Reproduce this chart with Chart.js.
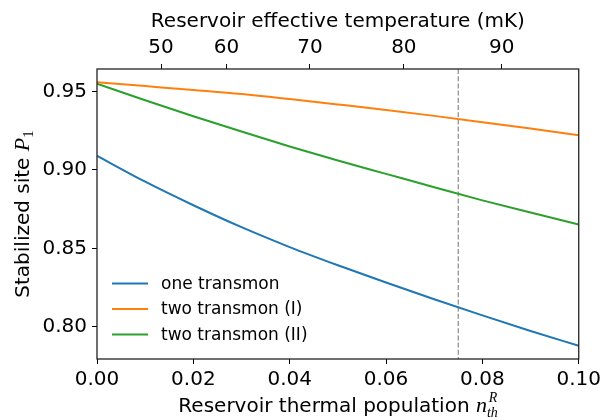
<!DOCTYPE html>
<html>
<head>
<meta charset="utf-8">
<script src="https://cdn.jsdelivr.net/npm/chart.js@4.4.1/dist/chart.umd.min.js"></script>
<style>
  body { margin: 0; background: #fff; }
  #wrap { width: 605px; height: 420px; position: relative; }
</style>
</head>
<body>
<div id="wrap"><canvas id="chart"></canvas></div>
<script>
// thermal population of the reservoir (x axis)
const nValues = [0, 0.01, 0.02, 0.03, 0.04, 0.05, 0.06, 0.07, 0.08, 0.09, 0.10];
// stabilized site population P1
const oneTransmon   = [0.909, 0.8925, 0.8775, 0.8635, 0.8508, 0.8392, 0.8282, 0.8175, 0.8072, 0.7973, 0.7878];
const twoTransmonI  = [0.956, 0.9535, 0.951, 0.9484, 0.9452, 0.9418, 0.9383, 0.9345, 0.9305, 0.9264, 0.9222];
const twoTransmonII = [0.955, 0.9445, 0.9343, 0.9245, 0.915, 0.906, 0.8975, 0.889, 0.8806, 0.8728, 0.8652];

const seriesLabels = ["one transmon", "two transmon (I)", "two transmon (II)"];
const seriesColors = ["#1f77b4", "#ff7f0e", "#2ca02c"];

const xTicks = [0, 0.02, 0.04, 0.06, 0.08, 0.10];
const yTicks = [0.80, 0.85, 0.90, 0.95];
// top axis: effective temperature ticks, placed at their thermal population
const tempTickN = [0.0133, 0.0269, 0.0442, 0.0637, 0.0840];
const tempTickLabels = ["50", "60", "70", "80", "90"];
const markerN = 0.075;

const FONT = "DejaVu Sans";
Chart.defaults.font.family = FONT;
Chart.defaults.color = "#000";

function toPoints(ys) {
  return ys.map((y, i) => ({ x: nValues[i], y: y }));
}

// draws a row of text pieces with different fonts, centred on x
function drawRich(ctx, parts, x, y) {
  let total = 0;
  parts.forEach((p) => {
    ctx.font = p.font;
    p.w = ctx.measureText(p.text).width;
    total += p.w + (p.gap || 0);
  });
  let cx = x - total / 2;
  ctx.textAlign = "left";
  ctx.textBaseline = "alphabetic";
  parts.forEach((p) => {
    ctx.font = p.font;
    ctx.fillText(p.text, cx, y + (p.dy || 0));
    cx += p.w + (p.gap || 0);
  });
}

const extras = {
  id: "extras",
  beforeDatasetsDraw(chart) {
    const ctx = chart.ctx;
    const a = chart.chartArea;
    const px = chart.scales.x.getPixelForValue(markerN);
    ctx.save();
    ctx.strokeStyle = "rgba(128,128,128,0.85)";
    ctx.lineWidth = 1.3;
    ctx.setLineDash([5, 2.2]);
    ctx.beginPath();
    ctx.moveTo(px, a.top);
    ctx.lineTo(px, a.bottom);
    ctx.stroke();
    ctx.restore();
  },
  afterDatasetsDraw(chart) {
    const ctx = chart.ctx;
    const a = chart.chartArea;
    ctx.save();
    // frame
    ctx.strokeStyle = "#222";
    ctx.lineWidth = 1.3;
    ctx.strokeRect(a.left, a.top, a.right - a.left, a.bottom - a.top);

    // legend inside the lower left corner
    const rows = [283.5, 309, 334.5];
    ctx.font = "17px " + FONT;
    ctx.textBaseline = "middle";
    ctx.textAlign = "left";
    chart.data.datasets.forEach((ds, i) => {
      ctx.strokeStyle = ds.borderColor;
      ctx.lineWidth = 2;
      ctx.beginPath();
      ctx.moveTo(a.left + 15, rows[i]);
      ctx.lineTo(a.left + 51, rows[i]);
      ctx.stroke();
      ctx.fillStyle = "#000";
      ctx.fillText(ds.label, a.left + 64, rows[i] + 1);
    });

    // axis titles
    ctx.fillStyle = "#000";
    const cx = (a.left + a.right) / 2;
    ctx.font = "20px " + FONT;
    ctx.textAlign = "center";
    ctx.textBaseline = "alphabetic";
    ctx.fillText("Reservoir effective temperature (mK)", cx, 27);

    drawRich(ctx, [
      { text: "Reservoir thermal population ", font: "20px " + FONT },
      { text: "n", font: "italic 22px 'Liberation Serif'" },
      { text: "th", font: "italic 14px 'Liberation Serif'", dy: 5, gap: -9 },
      { text: "R", font: "italic 14px 'Liberation Serif'", dy: -10 }
    ], cx, 412);

    ctx.translate(29, (a.top + a.bottom) / 2);
    ctx.rotate(-Math.PI / 2);
    drawRich(ctx, [
      { text: "Stabilized site ", font: "20px " + FONT },
      { text: "P", font: "italic 22px 'Liberation Serif'" },
      { text: "1", font: "15px 'Liberation Serif'", dy: 4 }
    ], 0, 0);
    ctx.restore();
  }
};

const tickFont = { family: FONT, size: 20 };
const gridOpts = { drawOnChartArea: false, drawTicks: true, tickLength: 5, tickColor: "#000", tickWidth: 1 };

new Chart(document.getElementById("chart"), {
  type: "line",
  data: {
    datasets: [oneTransmon, twoTransmonI, twoTransmonII].map((ys, i) => ({
      label: seriesLabels[i],
      data: toPoints(ys),
      borderColor: seriesColors[i],
      backgroundColor: seriesColors[i],
      borderWidth: 2,
      pointRadius: 0,
      cubicInterpolationMode: "monotone",
      fill: false
    }))
  },
  options: {
    responsive: true,
    maintainAspectRatio: false,
    animation: false,
    layout: { padding: { left: 0, right: 26, top: 0, bottom: 0 } },
    plugins: { legend: { display: false }, tooltip: { enabled: false } },
    scales: {
      x: {
        type: "linear",
        position: "bottom",
        min: 0,
        max: 0.1,
        afterBuildTicks: (axis) => { axis.ticks = xTicks.map((v) => ({ value: v })); },
        afterFit: (axis) => { axis.height = 61; },
        ticks: { font: tickFont, padding: 4, maxRotation: 0, callback: (v) => v.toFixed(2) },
        grid: gridOpts,
        border: { display: false }
      },
      x2: {
        type: "linear",
        position: "top",
        min: 0,
        max: 0.1,
        afterBuildTicks: (axis) => { axis.ticks = tempTickN.map((v) => ({ value: v })); },
        afterFit: (axis) => { axis.height = 69; },
        ticks: { font: tickFont, padding: 4, maxRotation: 0, callback: (v, i) => tempTickLabels[i] },
        grid: gridOpts,
        border: { display: false }
      },
      y: {
        type: "linear",
        min: 0.7794,
        max: 0.9644,
        afterBuildTicks: (axis) => { axis.ticks = yTicks.map((v) => ({ value: v })); },
        afterFit: (axis) => { axis.width = 97; },
        ticks: { font: tickFont, padding: 5, callback: (v) => v.toFixed(2) },
        grid: gridOpts,
        border: { display: false }
      }
    }
  },
  plugins: [extras]
});
</script>
</body>
</html>
